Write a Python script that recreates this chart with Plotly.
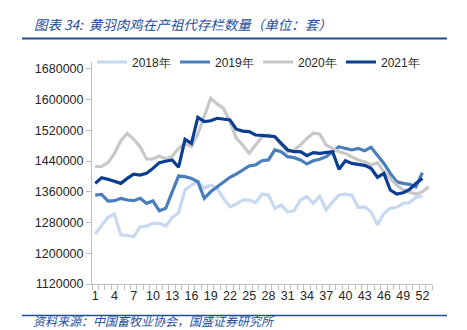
import plotly.graph_objects as go

weeks = list(range(1, 54))
tick_weeks = list(range(1, 53, 3))

s2018 = [1250000, 1273500, 1293500, 1302000, 1247400, 1246600, 1243000, 1269000, 1270800, 1278000,
         1278000, 1270800, 1293500, 1305500, 1364700, 1377700, 1386300, 1369000, 1377700, 1369000,
         1343000, 1321000, 1328000, 1338600, 1338600, 1331600, 1354000, 1351600, 1317000, 1325600,
         1308000, 1310700, 1338600, 1347000, 1330000, 1349000, 1312600, 1334000, 1351600, 1354000,
         1351600, 1319600, 1321000, 1308000, 1273500, 1304000, 1317000, 1319600, 1330000, 1331600,
         1345600, 1349000]
s2019 = [1351600, 1353400, 1336000, 1337000, 1343000, 1338600, 1337000, 1343000, 1330000, 1336000,
         1310700, 1317000, 1360000, 1401000, 1399400, 1395000, 1386300, 1343000, 1360000, 1373000,
         1386300, 1397800, 1406400, 1416800, 1427200, 1430000, 1441000, 1443000, 1469000, 1464500,
         1451500, 1449000, 1443000, 1432400, 1441000, 1444700, 1451500, 1464500, 1477500, 1473000,
         1469000, 1473000, 1467000, 1476000, 1456000, 1434000, 1408000, 1386300, 1382000, 1379500,
         1373000, 1409800]
s2020 = [1425400, 1426000, 1436000, 1460000, 1493000, 1512500, 1496700, 1477500, 1445500, 1445500,
         1453000, 1445500, 1453000, 1473000, 1486000, 1477500, 1510000, 1560000, 1603600, 1589000,
         1577600, 1542700, 1499000, 1482000, 1460000, 1482000, 1503600, 1508000, 1503600, 1482000,
         1464500, 1469000, 1482000, 1499000, 1512500, 1510600, 1482000, 1473000, 1464500, 1460000,
         1451500, 1443000, 1438500, 1430000, 1436000, 1412500, 1395000, 1377700, 1364700, 1360000,
         1354000, 1360000, 1373000]
s2021 = [1382000, 1396700, 1392500, 1388000, 1382000, 1395000, 1406000, 1403700, 1408000, 1421000,
         1436000, 1439500, 1443000, 1424000, 1496800, 1486000, 1554000, 1542700, 1545000, 1551500,
         1549000, 1547000, 1523000, 1518000, 1516700, 1508000, 1507000, 1506000, 1503600, 1486000,
         1469000, 1464500, 1464500, 1454000, 1462000, 1460000, 1462000, 1464500, 1418600, 1441000,
         1434000, 1431600, 1429000, 1421000, 1397800, 1408000, 1364700, 1354000, 1357600, 1366000,
         1382000, 1395000]

series = [
    ("2018年", s2018, "#c6d9f0"),
    ("2019年", s2019, "#4a7ebb"),
    ("2020年", s2020, "#c8c8c8"),
    ("2021年", s2021, "#0b3e91"),
]

fig = go.Figure()
for name, vals, color in series:
    fig.add_trace(go.Scatter(
        x=weeks[:len(vals)], y=vals, name=name, mode="lines",
        line=dict(color=color, width=3.2),
    ))

axis_font = dict(family="Liberation Sans, Arial, sans-serif", size=12.5, color="#262626")

fig.update_layout(
    width=467, height=330,
    margin=dict(l=92, r=35, t=62, b=46),
    paper_bgcolor="white", plot_bgcolor="white",
    showlegend=True,
    legend=dict(
        orientation="h", x=0.0, y=1.0, xanchor="left", yanchor="middle",
        font=dict(family="Liberation Sans, Arial, sans-serif", size=12, color="#262626"),
        bgcolor="rgba(0,0,0,0)", entrywidth=38, entrywidthmode="pixels",
        itemwidth=30, tracegroupgap=0,
    ),
    xaxis=dict(
        range=[0.5, 53.5], tickmode="array", tickvals=tick_weeks,
        ticktext=[str(w) for w in tick_weeks],
        ticks="", showgrid=False, zeroline=False,
        showline=True, linecolor="#bfbfbf", linewidth=1,
        tickfont=axis_font,
        minor=dict(tick0=0.5, dtick=1, ticks="outside", ticklen=5, tickcolor="#bfbfbf", showgrid=False),
    ),
    yaxis=dict(
        range=[1120000, 1698000], tickmode="linear", tick0=1120000, dtick=80000,
        tickformat="d", ticks="outside", ticklen=5, tickcolor="#bfbfbf",
        showgrid=False, zeroline=False,
        showline=True, linecolor="#bfbfbf", linewidth=1,
        tickfont=axis_font,
    ),
)

title_color = "#1f4e9a"
fig.add_annotation(
    xref="paper", yref="paper", x=-(92 - 32) / 340, y=1 + (62 - 24) / 222,
    xanchor="left", yanchor="middle", showarrow=False,
    text="<i>图表 34:  黄羽肉鸡在产祖代存栏数量（单位：套）</i>",
    font=dict(family="Noto Sans CJK SC", size=13.5, color=title_color),
)
fig.add_annotation(
    xref="paper", yref="paper", x=-(92 - 32) / 340, y=-(320.5 - 284) / 222,
    xanchor="left", yanchor="middle", showarrow=False,
    text="<i>资料来源：中国畜牧业协会，国盛证券研究所</i>",
    font=dict(family="Noto Sans CJK SC", size=12, color=title_color),
    borderpad=0,
)
fig.add_shape(type="line", xref="paper", yref="paper",
              x0=-(92 - 22) / 340, x1=(447 - 92) / 340,
              y0=1 + (62 - 38.5) / 222, y1=1 + (62 - 38.5) / 222,
              line=dict(color="#1f4e9a", width=2))
fig.add_shape(type="line", xref="paper", yref="paper",
              x0=-(92 - 22) / 340, x1=(447 - 92) / 340,
              y0=-(315.5 - 284) / 222, y1=-(315.5 - 284) / 222,
              line=dict(color="#1f4e9a", width=1.5))

fig.write_html("out.html")
